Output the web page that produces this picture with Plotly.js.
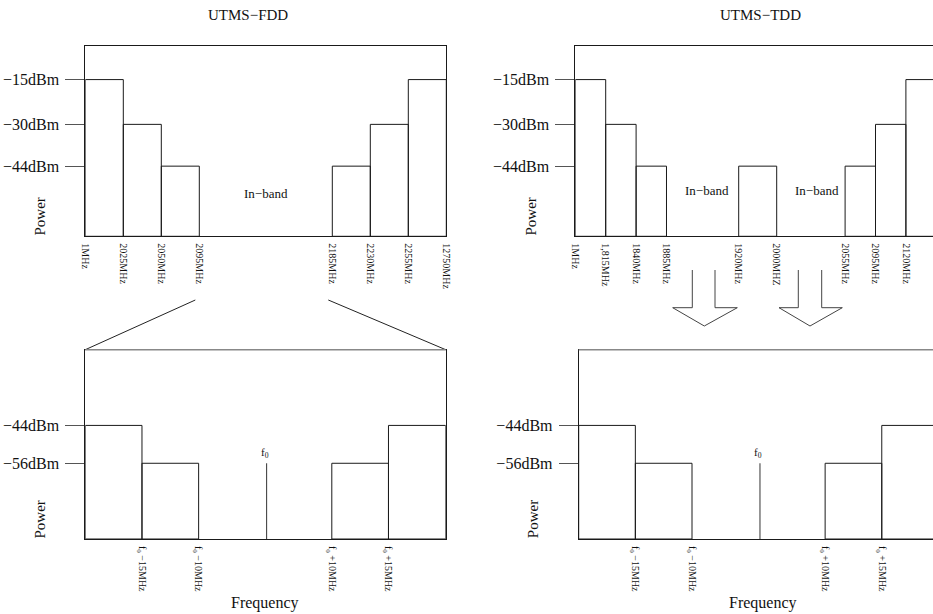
<!DOCTYPE html>
<html><head><meta charset="utf-8">
<script src="https://cdn.plot.ly/plotly-3.0.1.min.js"></script>
<style>html,body{margin:0;padding:0;overflow:hidden;background:#fff}#chart{width:942px;height:614px}</style>
</head><body><div id="chart"></div>
<script>
// ---------- data ----------
const fddEdgeLabels = ['1MHz','2025MHz','2050MHz','2095MHz','2185MHz','2230MHz','2255MHz','12750MHz'];
const fddEdgePos = [0,1,2,3,6.5,7.5,8.5,9.5];            // schematic slot positions
const fddLevels = [-15,-30,-44,null,-44,-30,-15];          // dBm per segment (null = in-band)

const tddEdgeLabels = ['1MHz','1,815MHz','1840MHz','1885MHz','1920MHz','2000MHZ','2055MHz','2095MHz','2120MHz','12750MHz'];
const tddEdgePos = [0,1,2,3,5.375,6.625,8.875,9.875,10.875,11.875];
const tddLevels = [-15,-30,-44,null,-44,null,-44,-30,-15];

const levelTicks = [-15,-30,-44];
const levelTickLabels = ['\u221215dBm','\u221230dBm','\u221244dBm'];

const maskEdgeLabels = ['', 'f<sub>0</sub> \u221215MHz', 'f<sub>0</sub> \u221210MHz', 'f<sub>0</sub> +10MHz', 'f<sub>0</sub> +15MHz', ''];
const maskEdgePos = [0,1,2,4.35,5.35,6.36];
const maskLevels = [-44,-56,null,-56,-44];
const carrierPos = 3.2;
const carrierLevel = -56;
const maskTicks = [-44,-56];
const maskTickLabels = ['\u221244dBm','\u221256dBm'];

// ---------- layout helpers ----------
const W = 942, H = 614;
const FONT = 'Liberation Serif, Times New Roman, serif';
const xd = (a,b) => [a/W, b/W];
const yd = (t,b) => [1-b/H, 1-t/H];
const px = x => x/W, py = y => 1-y/H;

const topRange = [-67.5,-3.85];
const botRange = [-80,-20];

function bars(edges, levels, floor, xa, ya){
  const x=[],w=[],y=[];
  levels.forEach((v,i)=>{ if(v!==null){ x.push((edges[i]+edges[i+1])/2); w.push(edges[i+1]-edges[i]); y.push(v-floor);} });
  return {type:'bar', x, y, width:w, base:floor, xaxis:xa, yaxis:ya,
    marker:{color:'rgba(255,255,255,0)', line:{color:'#1a1a1a', width:1}},
    hoverinfo:'skip', showlegend:false};
}
function carrier(xa, ya){
  return {type:'scatter', mode:'lines', x:[carrierPos,carrierPos], y:[botRange[0],carrierLevel],
    xaxis:xa, yaxis:ya, line:{color:'#333', width:1}, hoverinfo:'skip', showlegend:false};
}
const maskTickVals = maskEdgePos.filter((p,i)=>maskEdgeLabels[i]!=='');
const maskTickText = maskEdgeLabels.filter(l=>l!=='');

const data = [
  bars(fddEdgePos, fddLevels, topRange[0], 'x', 'y'),
  bars(tddEdgePos, tddLevels, topRange[0], 'x2', 'y2'),
  bars(maskEdgePos, maskLevels, botRange[0], 'x3', 'y3'),
  carrier('x3','y3'),
  bars(maskEdgePos, maskLevels, botRange[0], 'x4', 'y4'),
  carrier('x4','y4')
];

function xAx(dom, range, vals, text, anchor){
  return {domain:dom, range:range, anchor:anchor, showline:true, mirror:true, linecolor:'#1a1a1a', linewidth:1,
    tickmode:'array', tickvals:vals, ticktext:text, tickangle:90, ticks:'outside', ticklen:4,
    tickcolor:'rgba(0,0,0,0)', tickfont:{family:FONT, size:10, color:'#111'},
    showgrid:false, zeroline:false, fixedrange:true};
}
function yAx(dom, range, vals, text, anchor){
  return {domain:dom, range:range, anchor:anchor, showline:true, mirror:true, linecolor:'#1a1a1a', linewidth:1,
    tickmode:'array', tickvals:vals, ticktext:text, ticks:'outside', ticklen:19, tickwidth:1,
    tickcolor:'#555', tickfont:{family:FONT, size:16, color:'#111'}, ticklabelstandoff:3,
    showgrid:false, zeroline:false, fixedrange:true};
}

const ann = (x,y,text,size,extra) => Object.assign({x:px(x), y:py(y), xref:'paper', yref:'paper', text, showarrow:false,
  font:{family:FONT, size:size, color:'#111'}, xanchor:'center', yanchor:'middle'}, extra||{});

const annotations = [
  ann(248,15,'UTMS\u2212FDD',15),
  ann(760.7,15,'UTMS\u2212TDD',15),
  ann(39,216.5,'Power',15,{textangle:-90}),
  ann(530,216.5,'Power',15,{textangle:-90}),
  ann(39,519.5,'Power',15,{textangle:-90}),
  ann(532.7,519.5,'Power',15,{textangle:-90}),
  ann(265,602.5,'Frequency',16),
  ann(763.3,602.5,'Frequency',16),
  {x:(fddEdgePos[3]+fddEdgePos[4])/2, y:-53.3, xref:'x', yref:'y', text:'In\u2212band', showarrow:false, font:{family:FONT,size:13,color:'#111'}},
  {x:(tddEdgePos[3]+tddEdgePos[4])/2, y:-52.2, xref:'x2', yref:'y2', xshift:4, text:'In\u2212band', showarrow:false, font:{family:FONT,size:13,color:'#111'}},
  {x:(tddEdgePos[5]+tddEdgePos[6])/2, y:-52.2, xref:'x2', yref:'y2', xshift:6, text:'In\u2212band', showarrow:false, font:{family:FONT,size:13,color:'#111'}},
  {x:carrierPos, y:carrierLevel, xref:'x3', yref:'y3', yanchor:'bottom', xshift:-2, yshift:1, text:'f<sub>0</sub>', showarrow:false, font:{family:FONT,size:11,color:'#111'}},
  {x:carrierPos, y:carrierLevel, xref:'x4', yref:'y4', yanchor:'bottom', xshift:-2, yshift:1, text:'f<sub>0</sub>', showarrow:false, font:{family:FONT,size:11,color:'#111'}}
];

function arrowPath(l, r, hl, hr, tipx, top, neck, tip){
  return `M${px(l)},${py(top)} L${px(l)},${py(neck)} L${px(hl)},${py(neck)} L${px(tipx)},${py(tip)} L${px(hr)},${py(neck)} L${px(r)},${py(neck)} L${px(r)},${py(top)}`;
}
const shapes = [
  {type:'line', xref:'paper', yref:'paper', x0:px(85.3), y0:py(349.7), x1:px(195.3), y1:py(300), line:{color:'#222', width:1}},
  {type:'line', xref:'paper', yref:'paper', x0:px(328.3), y0:py(300), x1:px(445.7), y1:py(349.7), line:{color:'#222', width:1}},
  {type:'line', xref:'paper', yref:'paper', x0:px(85.3), y0:py(349.7), x1:px(445.7), y1:py(349.7), line:{color:'#888', width:1.5}},
  {type:'line', xref:'paper', yref:'paper', x0:px(578.7), y0:py(349.7), x1:px(939), y1:py(349.7), line:{color:'#888', width:1.5}},
  {type:'path', xref:'paper', yref:'paper', path:arrowPath(692.3,715,672.7,737.3,704.3,270,307.7,326), line:{color:'#444', width:1}},
  {type:'path', xref:'paper', yref:'paper', path:arrowPath(798.3,821.7,779,842.3,810,270,307.7,326), line:{color:'#444', width:1}}
];

const layout = {
  width:W, height:H, margin:{l:0,r:0,t:0,b:0}, paper_bgcolor:'#fff', plot_bgcolor:'#fff',
  showlegend:false, barmode:'overlay', bargap:0,
  xaxis: xAx(xd(85.3,446.3), [0,fddEdgePos[fddEdgePos.length-1]], fddEdgePos, fddEdgeLabels, 'y'),
  yaxis: yAx(yd(46.3,236.3), topRange, levelTicks, levelTickLabels, 'x'),
  xaxis2: xAx(xd(575.3,936.3), [0,tddEdgePos[tddEdgePos.length-1]], tddEdgePos, tddEdgeLabels, 'y2'),
  yaxis2: yAx(yd(46.3,236.3), topRange, levelTicks, levelTickLabels, 'x2'),
  xaxis3: xAx(xd(85.3,445.7), [0,maskEdgePos[maskEdgePos.length-1]], maskTickVals, maskTickText, 'y3'),
  yaxis3: yAx(yd(349.7,539), botRange, maskTicks, maskTickLabels, 'x3'),
  xaxis4: xAx(xd(578.7,939), [0,maskEdgePos[maskEdgePos.length-1]], maskTickVals, maskTickText, 'y4'),
  yaxis4: yAx(yd(349.7,539), botRange, maskTicks, maskTickLabels, 'x4'),
  annotations, shapes
};

Plotly.newPlot('chart', data, layout, {staticPlot:true, displayModeBar:false, responsive:false});
</script></body></html>
